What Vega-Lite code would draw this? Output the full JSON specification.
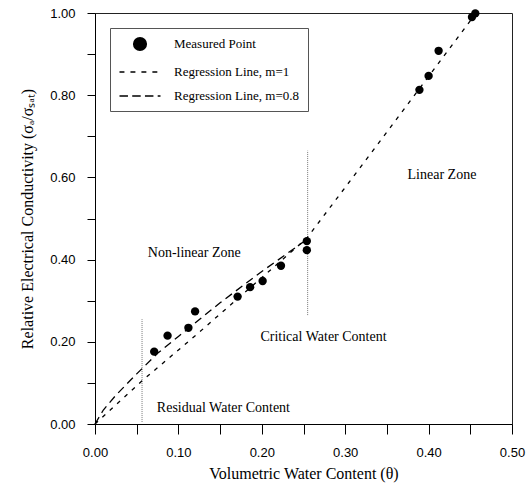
{
  "$schema": "https://vega.github.io/schema/vega-lite/v6.json",
  "width": 417,
  "height": 411,
  "autosize": {"type": "none"},
  "padding": {"left": 95, "top": 13, "right": 15, "bottom": 68},
  "background": "white",
  "config": {
    "view": {"stroke": "#222", "strokeWidth": 1},
    "axis": {
      "grid": false,
      "domainColor": "black",
      "tickColor": "black",
      "labelColor": "black",
      "titleColor": "black",
      "labelFont": "Liberation Sans",
      "labelFontSize": 13,
      "titleFont": "Liberation Serif",
      "titleFontSize": 16,
      "titleFontWeight": "normal",
      "labelFlush": false,
      "labelOverlap": false
    }
  },
  "datasets": {
    "points": [
      {"theta": 0.071, "sigma": 0.176, "series": "Measured Point"},
      {"theta": 0.087, "sigma": 0.215, "series": "Measured Point"},
      {"theta": 0.112, "sigma": 0.234, "series": "Measured Point"},
      {"theta": 0.120, "sigma": 0.274, "series": "Measured Point"},
      {"theta": 0.171, "sigma": 0.310, "series": "Measured Point"},
      {"theta": 0.186, "sigma": 0.333, "series": "Measured Point"},
      {"theta": 0.201, "sigma": 0.348, "series": "Measured Point"},
      {"theta": 0.223, "sigma": 0.385, "series": "Measured Point"},
      {"theta": 0.254, "sigma": 0.445, "series": "Measured Point"},
      {"theta": 0.254, "sigma": 0.423, "series": "Measured Point"},
      {"theta": 0.389, "sigma": 0.813, "series": "Measured Point"},
      {"theta": 0.400, "sigma": 0.847, "series": "Measured Point"},
      {"theta": 0.412, "sigma": 0.908, "series": "Measured Point"},
      {"theta": 0.452, "sigma": 0.990, "series": "Measured Point"},
      {"theta": 0.456, "sigma": 0.999, "series": "Measured Point"}
    ],
    "m1": [
      {"theta": 0.0, "sigma": 0.0},
      {"theta": 0.0564, "sigma": 0.105},
      {"theta": 0.122, "sigma": 0.218},
      {"theta": 0.254, "sigma": 0.452},
      {"theta": 0.338, "sigma": 0.678},
      {"theta": 0.457, "sigma": 1.0}
    ],
    "m08": [
      {"theta": 0.0, "sigma": 0.0},
      {"theta": 0.01, "sigma": 0.034},
      {"theta": 0.025, "sigma": 0.070},
      {"theta": 0.05, "sigma": 0.122},
      {"theta": 0.075, "sigma": 0.172},
      {"theta": 0.1, "sigma": 0.213},
      {"theta": 0.15, "sigma": 0.295},
      {"theta": 0.2, "sigma": 0.371},
      {"theta": 0.254, "sigma": 0.449}
    ],
    "rules": [
      {"theta": 0.0564, "y1": 0.005, "y2": 0.255},
      {"theta": 0.255, "y1": 0.265, "y2": 0.665}
    ],
    "notes": [
      {"theta": 0.119, "sigma": 0.417, "label": "Non-linear Zone"},
      {"theta": 0.274, "sigma": 0.211, "label": "Critical Water Content"},
      {"theta": 0.154, "sigma": 0.040, "label": "Residual Water Content"},
      {"theta": 0.416, "sigma": 0.607, "label": "Linear Zone"}
    ]
  },
  "encoding": {
    "x": {
      "field": "theta",
      "type": "quantitative",
      "scale": {"domain": [0, 0.5], "nice": false, "zero": false},
      "axis": {
        "title": "Volumetric Water Content (θ)",
        "values": [0, 0.05, 0.1, 0.15, 0.2, 0.25, 0.3, 0.35, 0.4, 0.45, 0.5],
        "labelExpr": "round(datum.value*100) % 10 == 0 ? format(datum.value, '.2f') : ''",
        "tickSize": 10,
        "labelPadding": 12,
        "titlePadding": 6
      }
    },
    "y": {
      "field": "sigma",
      "type": "quantitative",
      "scale": {"domain": [0, 1], "nice": false},
      "axis": {
        "title": "Relative Electrical Conductivity (σₐ/σₛₐₜ)",
        "values": [0, 0.1, 0.2, 0.3, 0.4, 0.5, 0.6, 0.7, 0.8, 0.9, 1.0],
        "labelExpr": "round(datum.value*10) % 2 == 0 ? format(datum.value, '.2f') : ''",
        "tickSize": 8,
        "labelPadding": 12,
        "titlePadding": 14
      }
    }
  },
  "layer": [
    {
      "data": {"name": "rules"},
      "mark": {"type": "rule", "color": "#777", "strokeWidth": 1, "strokeDash": [1, 1]},
      "encoding": {
        "y": {"field": "y1", "type": "quantitative"},
        "y2": {"field": "y2"}
      }
    },
    {
      "data": {"name": "m1"},
      "mark": {"type": "line", "color": "black", "strokeWidth": 1.3, "strokeDash": [4, 6]},
      "encoding": {}
    },
    {
      "data": {"name": "m08"},
      "mark": {"type": "line", "color": "black", "strokeWidth": 1.3, "strokeDash": [8, 5]},
      "encoding": {}
    },
    {
      "data": {"name": "points"},
      "mark": {"type": "point", "filled": true, "color": "black", "size": 70, "opacity": 1},
      "encoding": {
        "shape": {
          "field": "series",
          "type": "nominal",
          "scale": {
            "domain": ["Measured Point", "Regression Line, m=1", "Regression Line, m=0.8"],
            "range": [
              "circle",
              "M-2.9,-0.09L-2.2,-0.09L-2.2,0.09L-2.9,0.09Z M-1.35,-0.09L-0.65,-0.09L-0.65,0.09L-1.35,0.09Z M0.2,-0.09L0.9,-0.09L0.9,0.09L0.2,0.09Z M1.75,-0.09L2.45,-0.09L2.45,0.09L1.75,0.09Z",
              "M-2.9,-0.09L-1.7,-0.09L-1.7,0.09L-2.9,0.09Z M-1.1,-0.09L0.1,-0.09L0.1,0.09L-1.1,0.09Z M0.7,-0.09L1.9,-0.09L1.9,0.09L0.7,0.09Z M2.5,-0.09L2.9,-0.09L2.9,0.09L2.5,0.09Z"
            ]
          },
          "legend": {
            "title": null,
            "orient": "none",
            "legendX": 15,
            "legendY": 15,
            "padding": 8,
            "symbolSize": 200,
            "symbolOffset": 14,
            "labelOffset": 26,
            "rowPadding": 9,
            "labelFont": "Liberation Serif",
            "labelFontSize": 13,
            "labelColor": "black",
            "strokeColor": "#555",
            "fillColor": "white",
            "symbolFillColor": "black",
            "symbolOpacity": 1
          }
        }
      }
    },
    {
      "data": {"name": "notes"},
      "mark": {"type": "text", "font": "Liberation Serif", "fontSize": 14, "color": "black", "align": "center", "baseline": "middle"},
      "encoding": {
        "text": {"field": "label", "type": "nominal"}
      }
    }
  ]
}
